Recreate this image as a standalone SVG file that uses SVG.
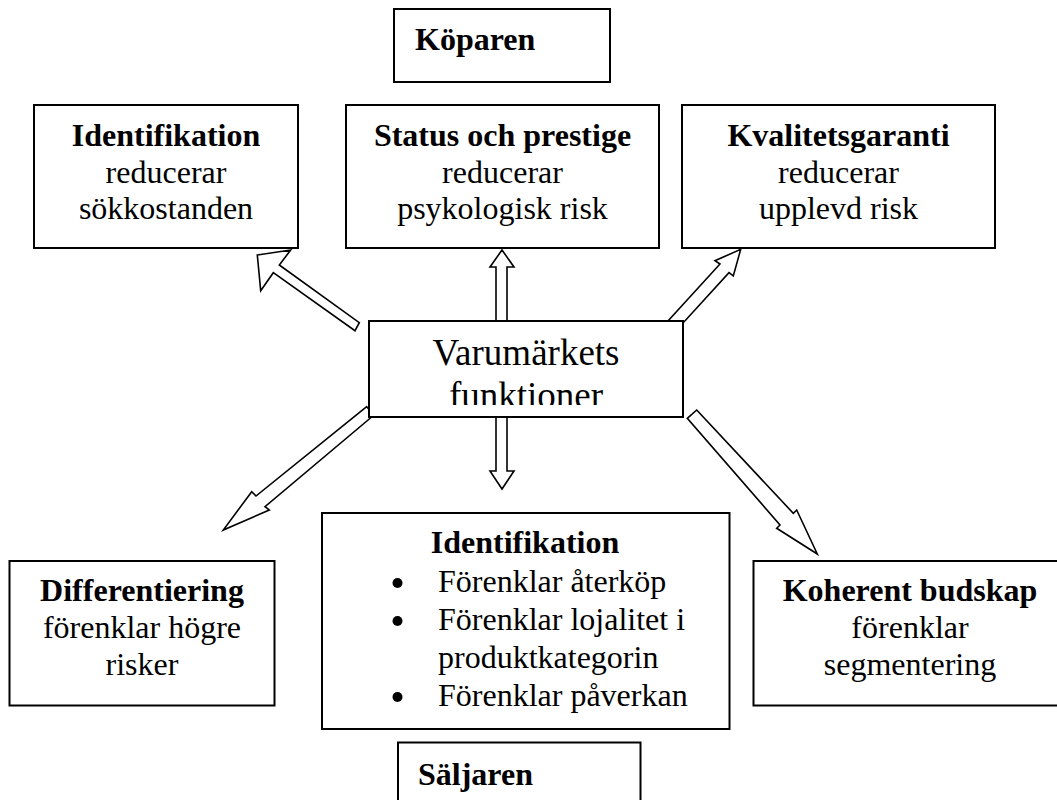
<svg xmlns="http://www.w3.org/2000/svg" width="1057" height="800" viewBox="0 0 1057 800">
<style>
rect.box{fill:#fff;stroke:#000;stroke-width:2}
.arrow{fill:#fff;stroke:#000;stroke-width:1.6;stroke-linejoin:miter}
text{font-family:"Liberation Serif","Times New Roman",serif;font-size:32px;fill:#000}
.b{font-weight:bold}
.c{text-anchor:middle}
.big{font-size:37px}
</style>
<defs>
<clipPath id="cclip"><rect x="369" y="321" width="314" height="84"/></clipPath>
</defs>
<rect width="1057" height="800" fill="#fff"/>
<g id="connectors">
<polygon class="arrow" points="257.3,255 290.7,250 279.3,265 359.3,322.7 355,330.7 273.3,272.7 260.7,290.7"/>
<polygon class="arrow" points="502,250 514,267 507,267 507,321 496,321 496,267 490,267"/>
<polygon class="arrow" points="740.7,249.3 733.3,276 729,272.7 676,330.7 667.3,321.7 720,264 715,260.7"/>
<polygon class="arrow" points="366.7,406.7 374,415 265,506.7 269.3,510 223.3,530 251.7,491.7 256,496"/>
<polygon class="arrow" points="496,417 507,417 507,471 514,471 502,489 490,471 496,471"/>
<polygon class="arrow" points="696.7,410 793.3,513.3 796.7,510 817.3,554 776.7,528.3 780,525 687.3,418.3"/>
</g>
<g id="koparen">
<rect class="box" x="394" y="9" width="216" height="73"/>
<text class="b" x="415" y="50">Köparen</text>
</g>
<g id="identifikation-top">
<rect class="box" x="34" y="105" width="264" height="143"/>
<text class="b c" x="166" y="146">Identifikation</text>
<text class="c" x="166" y="183">reducerar</text>
<text class="c" x="166" y="219">sökkostanden</text>
</g>
<g id="status">
<rect class="box" x="346" y="105" width="313" height="143"/>
<text class="b c" x="502.5" y="146">Status och prestige</text>
<text class="c" x="502.5" y="183">reducerar</text>
<text class="c" x="502.5" y="219">psykologisk risk</text>
</g>
<g id="kvalitet">
<rect class="box" x="682" y="105" width="313" height="143"/>
<text class="b c" x="838.5" y="146">Kvalitetsgaranti</text>
<text class="c" x="838.5" y="183">reducerar</text>
<text class="c" x="838.5" y="219">upplevd risk</text>
</g>
<g id="center">
<rect class="box" x="369" y="321" width="314" height="96"/>
<g clip-path="url(#cclip)">
<text class="c big" x="526" y="365">Varumärkets</text>
<text class="c big" x="526" y="408">funktioner</text>
</g>
</g>
<g id="differentiering">
<rect class="box" x="9.5" y="561" width="265" height="144.5"/>
<text class="b c" x="142" y="601">Differentiering</text>
<text class="c" x="142" y="638">förenklar högre</text>
<text class="c" x="142" y="675">risker</text>
</g>
<g id="identifikation-bottom">
<rect class="box" x="322" y="513" width="407.5" height="216"/>
<text class="b c" x="525" y="553">Identifikation</text>
<circle cx="397.5" cy="583" r="5" fill="#000"/>
<text x="438" y="592">Förenklar återköp</text>
<circle cx="397.5" cy="621" r="5" fill="#000"/>
<text x="438" y="630">Förenklar lojalitet i</text>
<text x="438" y="668">produktkategorin</text>
<circle cx="397.5" cy="697" r="5" fill="#000"/>
<text x="438" y="706">Förenklar påverkan</text>
</g>
<g id="koherent">
<rect class="box" x="753.5" y="561" width="314" height="144.5"/>
<text class="b c" x="910" y="601">Koherent budskap</text>
<text class="c" x="910" y="638">förenklar</text>
<text class="c" x="910" y="675">segmentering</text>
</g>
<g id="saljaren">
<rect class="box" x="398" y="742.5" width="242.5" height="80"/>
<text class="b" x="418" y="785">Säljaren</text>
</g>
</svg>
